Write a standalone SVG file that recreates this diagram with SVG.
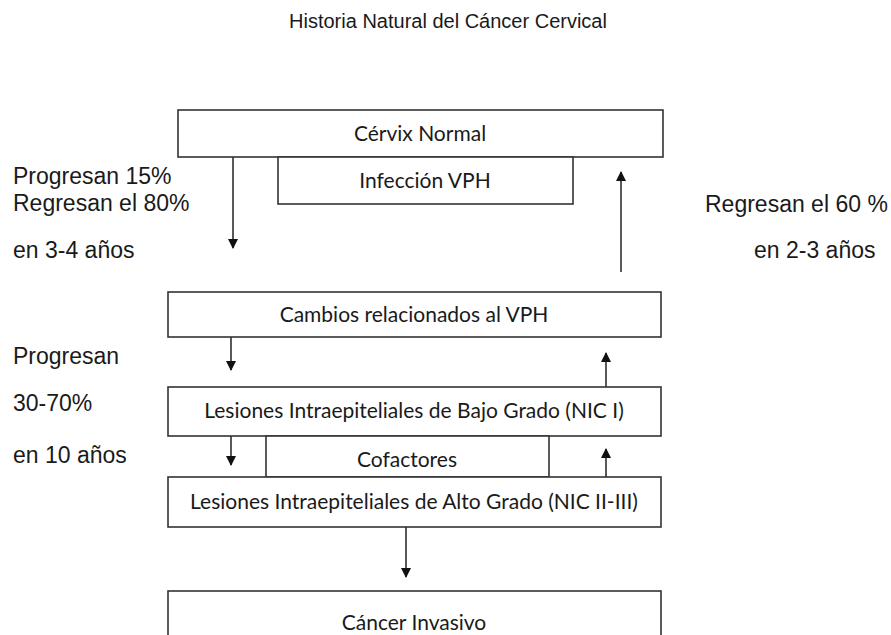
<svg xmlns="http://www.w3.org/2000/svg" width="891" height="635" viewBox="0 0 891 635">
<style>
.box{fill:#fff;stroke:#333;stroke-width:1.6}
.bt{font-family:Lato,"Open Sans",sans-serif;font-size:21px;fill:#1a1a1a;text-anchor:middle}
.lt{font-family:"Liberation Sans",Arial,sans-serif;font-size:23px;fill:#1a1a1a}
.title{font-family:"Liberation Sans",Arial,sans-serif;font-size:20px;fill:#1a1a1a;text-anchor:middle}
.ln{stroke:#222;stroke-width:1.5;fill:none}
</style>
<defs>
<marker id="ah" markerWidth="10" markerHeight="10" refX="9" refY="5" orient="auto" markerUnits="userSpaceOnUse">
<path d="M0,0 L10,5 L0,10 z" fill="#111"/>
</marker>
</defs>
<rect width="891" height="635" fill="#fff"/>
<text class="title" x="448" y="28">Historia Natural del Cáncer Cervical</text>
<g id="labels">
<text class="lt" x="13" y="184">Progresan 15%</text>
<text class="lt" x="13" y="211">Regresan el 80%</text>
<text class="lt" x="13" y="258">en 3-4 años</text>
<text class="lt" x="705" y="212">Regresan el 60 %</text>
<text class="lt" x="754" y="258">en 2-3 años</text>
<text class="lt" x="13" y="364">Progresan</text>
<text class="lt" x="13" y="411">30-70%</text>
<text class="lt" x="13" y="463">en 10 años</text>
</g>
<g id="connectors">
<line class="ln" x1="233" y1="157" x2="233" y2="248" marker-end="url(#ah)"/>
<line class="ln" x1="621" y1="272" x2="621" y2="172" marker-end="url(#ah)"/>
<line class="ln" x1="231" y1="337" x2="231" y2="370" marker-end="url(#ah)"/>
<line class="ln" x1="606" y1="387" x2="606" y2="353" marker-end="url(#ah)"/>
<line class="ln" x1="231" y1="436" x2="231" y2="465" marker-end="url(#ah)"/>
<line class="ln" x1="606" y1="477" x2="606" y2="449" marker-end="url(#ah)"/>
<line class="ln" x1="406" y1="527" x2="406" y2="577" marker-end="url(#ah)"/>
</g>
<g id="cervix">
<rect class="box" x="178" y="110" width="485" height="47"/>
<text class="bt" x="420" y="141">Cérvix Normal</text>
</g>
<g id="infeccion">
<rect class="box" x="278" y="157" width="295" height="47"/>
<text class="bt" x="425" y="188">Infección VPH</text>
</g>
<g id="cambios">
<rect class="box" x="168" y="292" width="493" height="45"/>
<text class="bt" x="414" y="322">Cambios relacionados al VPH</text>
</g>
<g id="bajo">
<rect class="box" x="168" y="387" width="493" height="49"/>
<text class="bt" x="414" y="418">Lesiones Intraepiteliales de Bajo Grado (NIC I)</text>
</g>
<g id="cofactores">
<rect class="box" x="266" y="436" width="283" height="41"/>
<text class="bt" x="407" y="467">Cofactores</text>
</g>
<g id="alto">
<rect class="box" x="168" y="477" width="493" height="50"/>
<text class="bt" x="414" y="509">Lesiones Intraepiteliales de Alto Grado (NIC II-III)</text>
</g>
<g id="cancer">
<rect class="box" x="168" y="591" width="493" height="60"/>
<text class="bt" x="414" y="630">Cáncer Invasivo</text>
</g>
</svg>
